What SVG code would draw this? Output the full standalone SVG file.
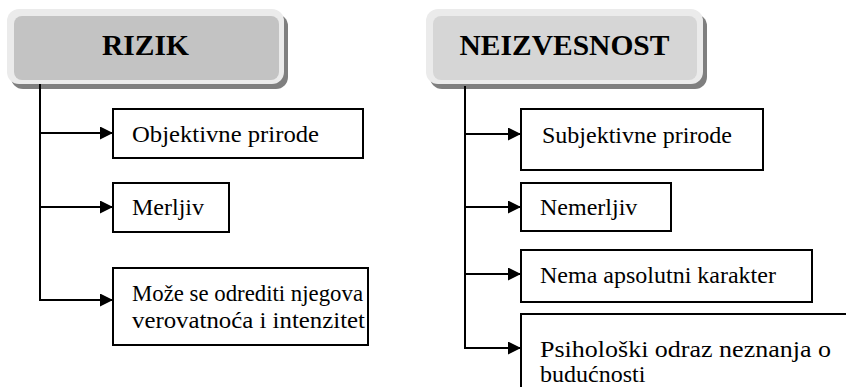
<svg xmlns="http://www.w3.org/2000/svg" width="846" height="387" viewBox="0 0 846 387">
<style>
.shadow{fill:#7f7f7f}
.ring{fill:#ebebeb}
.hdr{font-weight:bold;font-size:29.5px;fill:#000;text-anchor:middle}
.box{fill:#fff;stroke:#000;stroke-width:2}
.t{font-size:24px;fill:#000}
.ln{stroke:#000;stroke-width:2;fill:none}
</style>
<defs>
<marker id="arr" viewBox="0 0 13 13" refX="13" refY="6.5" markerWidth="13" markerHeight="13" markerUnits="userSpaceOnUse" orient="auto">
<path d="M0,0 L13,6.5 L0,13 Z" fill="#000"/>
</marker>
</defs>
<g font-family="Liberation Serif, Tinos, Times New Roman, Times, Noto Serif, DejaVu Serif, FreeSerif, serif">
<g id="rizik">
<rect class="shadow" x="11" y="14" width="277" height="75" rx="12"/>
<rect class="ring" x="7" y="9" width="277" height="75" rx="12"/>
<rect x="14" y="16" width="265" height="64" rx="8" fill="#c3c3c3"/>
<text class="hdr" x="145.5" y="55">RIZIK</text>
</g>
<g id="neizvesnost">
<rect class="shadow" x="430" y="14" width="277" height="75" rx="12"/>
<rect class="ring" x="426" y="9" width="277" height="75" rx="12"/>
<rect x="433" y="16" width="264" height="64" rx="8" fill="#d6d6d6"/>
<text class="hdr" x="564.5" y="55">NEIZVESNOST</text>
</g>
<g id="connectors">
<path class="ln" d="M40,84 V301"/>
<path class="ln" d="M40,133 H113" marker-end="url(#arr)"/>
<path class="ln" d="M40,207 H113" marker-end="url(#arr)"/>
<path class="ln" d="M40,300 H113" marker-end="url(#arr)"/>
<path class="ln" d="M465,86 V349"/>
<path class="ln" d="M465,134 H521" marker-end="url(#arr)"/>
<path class="ln" d="M465,207 H521" marker-end="url(#arr)"/>
<path class="ln" d="M465,274 H521" marker-end="url(#arr)"/>
<path class="ln" d="M465,348 H521" marker-end="url(#arr)"/>
</g>
<g id="objektivne">
<rect class="box" x="113" y="109" width="250" height="49"/>
<text class="t" x="132" y="142" textLength="187" lengthAdjust="spacingAndGlyphs">Objektivne prirode</text>
</g>
<g id="merljiv">
<rect class="box" x="113" y="183" width="116" height="49"/>
<text class="t" x="132" y="215">Merljiv</text>
</g>
<g id="moze">
<rect class="box" x="113" y="268" width="255" height="77"/>
<text class="t" x="132" y="301" textLength="231" lengthAdjust="spacingAndGlyphs">Može se odrediti njegova</text>
<text class="t" x="132" y="328" textLength="233" lengthAdjust="spacingAndGlyphs">verovatnoća i intenzitet</text>
</g>
<g id="subjektivne">
<rect class="box" x="521" y="109" width="242" height="61"/>
<text class="t" x="542" y="143">Subjektivne prirode</text>
</g>
<g id="nemerljiv">
<rect class="box" x="521" y="183" width="150" height="48"/>
<text class="t" x="540" y="215">Nemerljiv</text>
</g>
<g id="nema">
<rect class="box" x="521" y="250" width="291" height="52"/>
<text class="t" x="540" y="283">Nema apsolutni karakter</text>
</g>
<g id="psiholoski">
<rect class="box" x="521" y="314" width="330" height="80"/>
<text class="t" x="540" y="357" textLength="291" lengthAdjust="spacingAndGlyphs">Psihološki odraz neznanja o</text>
<text class="t" x="540" y="382">budućnosti</text>
</g>
</g>
</svg>
